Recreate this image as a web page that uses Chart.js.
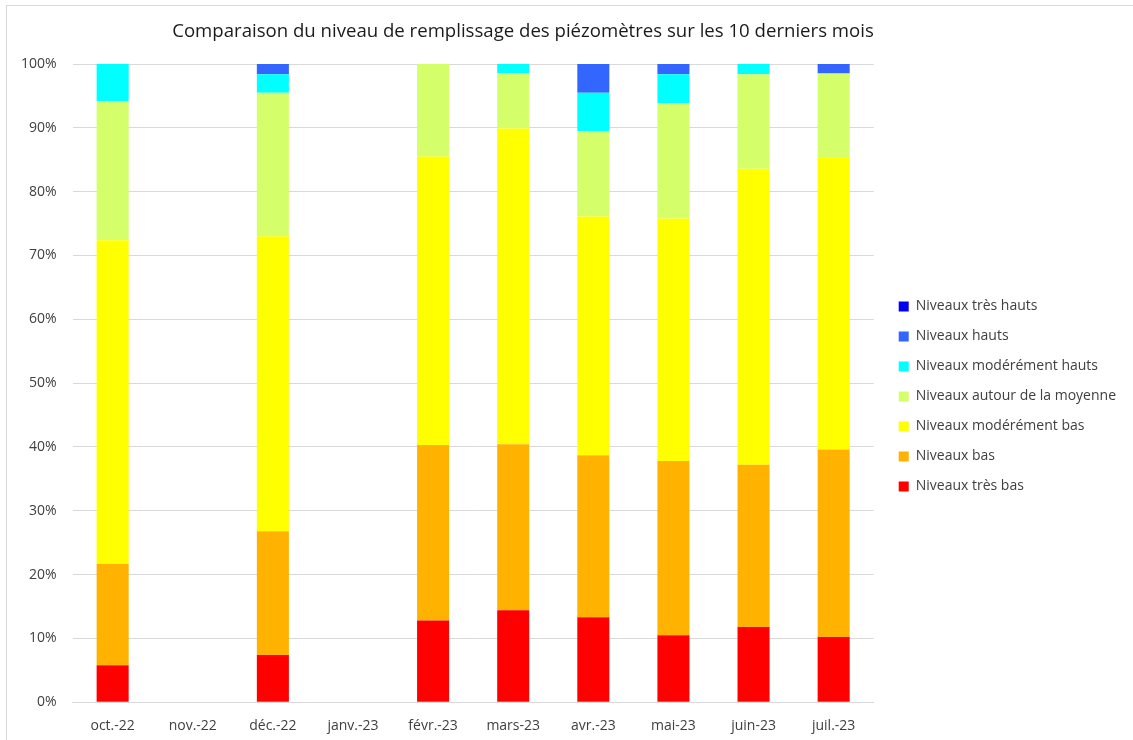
<!DOCTYPE html>
<html>
<head>
<meta charset="utf-8">
<script src="https://cdn.jsdelivr.net/npm/chart.js@4.4.0/dist/chart.umd.min.js"></script>
<style>
html,body{margin:0;padding:0;background:#fff;overflow:hidden;}
#frame{position:absolute;left:6px;top:5px;width:1200px;height:800px;border:1px solid #d9d9d9;}
#wrap{position:absolute;left:0;top:0;width:1133px;height:740px;}
</style>
</head>
<body>
<div id="frame"></div>
<div id="wrap"><canvas id="c" width="1133" height="740"></canvas></div>
<script>
const titleText = "Comparaison du niveau de remplissage des piézomètres sur les 10 derniers mois";
const categories = ["oct.-22","nov.-22","déc.-22","janv.-23","févr.-23","mars-23","avr.-23","mai-23","juin-23","juil.-23"];
const seriesNames = ["Niveaux très bas","Niveaux bas","Niveaux modérément bas","Niveaux autour de la moyenne","Niveaux modérément hauts","Niveaux hauts","Niveaux très hauts"];
const tresBas      = [5.8, null, 7.4, null, 12.8, 14.4, 13.3, 10.5, 11.8, 10.2];
const bas          = [15.9, null, 19.4, null, 27.5, 26.0, 25.4, 27.3, 25.4, 29.4];
const moderBas     = [50.7, null, 46.2, null, 45.2, 49.5, 37.4, 38.0, 46.4, 45.7];
const autourMoy    = [21.8, null, 22.5, null, 14.5, 8.7, 13.4, 18.1, 14.8, 13.2];
const moderHauts   = [5.8, null, 2.9, null, 0, 1.4, 6.0, 4.5, 1.6, 0];
const hauts        = [0, null, 1.6, null, 0, 0, 4.5, 1.6, 0, 1.5];
const tresHauts    = [0, null, 0, null, 0, 0, 0, 0, 0, 0];
const yTicks = [0,10,20,30,40,50,60,70,80,90,100];

const colors = ["#FF0000","#FFB300","#FFFF00","#D4FF6B","#00FFFF","#3366FF","#0000EE"];
const seriesData = [tresBas, bas, moderBas, autourMoy, moderHauts, hauts, tresHauts];

const FONT = "'Open Sans', 'Noto Sans', sans-serif";

const titlePlugin = {
  id: 'customTitle',
  afterDraw(chart) {
    const ctx = chart.ctx;
    ctx.save();
    ctx.font = "18.6px " + FONT;
    ctx.fillStyle = "#1a1a1a";
    ctx.textAlign = "center";
    ctx.textBaseline = "middle";
    ctx.fillText(titleText, 523, 32);
    ctx.restore();
  }
};

const legendShift = {
  id: 'legendShift',
  afterLayout(chart) {
    const lg = chart.legend;
    if (!lg) return;
    lg.left += 9; lg.right += 9;
    lg.top -= 10; lg.bottom -= 10;
  }
};

new Chart(document.getElementById('c'), {
  type: 'bar',
  data: {
    labels: categories,
    datasets: seriesNames.map((n, i) => ({
      label: n,
      data: seriesData[i],
      backgroundColor: colors[i],
      borderWidth: 0,
      categoryPercentage: 1,
      barPercentage: 0.4
    }))
  },
  plugins: [titlePlugin, legendShift],
  options: {
    responsive: false,
    animation: false,
    layout: { padding: { left: 5, right: 16, top: 64, bottom: -9 } },
    plugins: {
      title: { display: false },
      tooltip: { enabled: false },
      legend: {
        position: 'right',
        align: 'center',
        reverse: true,
        labels: {
          boxWidth: 10,
          boxHeight: 10,
          padding: 16,
          color: '#404040',
          font: { family: FONT, size: 14 }
        }
      }
    },
    scales: {
      x: {
        stacked: true,
        grid: { display: false, drawTicks: false },
        border: { display: true, color: '#d9d9d9' },
        ticks: { color: '#404040', padding: 15, font: { family: FONT, size: 14 }, maxRotation: 0 }
      },
      y: {
        stacked: true,
        min: 0,
        max: 100,
        afterBuildTicks: (axis) => { axis.ticks = yTicks.map(v => ({ value: v })); },
        grid: { color: '#d9d9d9', drawTicks: false },
        border: { display: false },
        ticks: { color: '#404040', padding: 16, font: { family: FONT, size: 14 }, callback: v => v + '%' }
      }
    }
  }
});
</script>
</body>
</html>
